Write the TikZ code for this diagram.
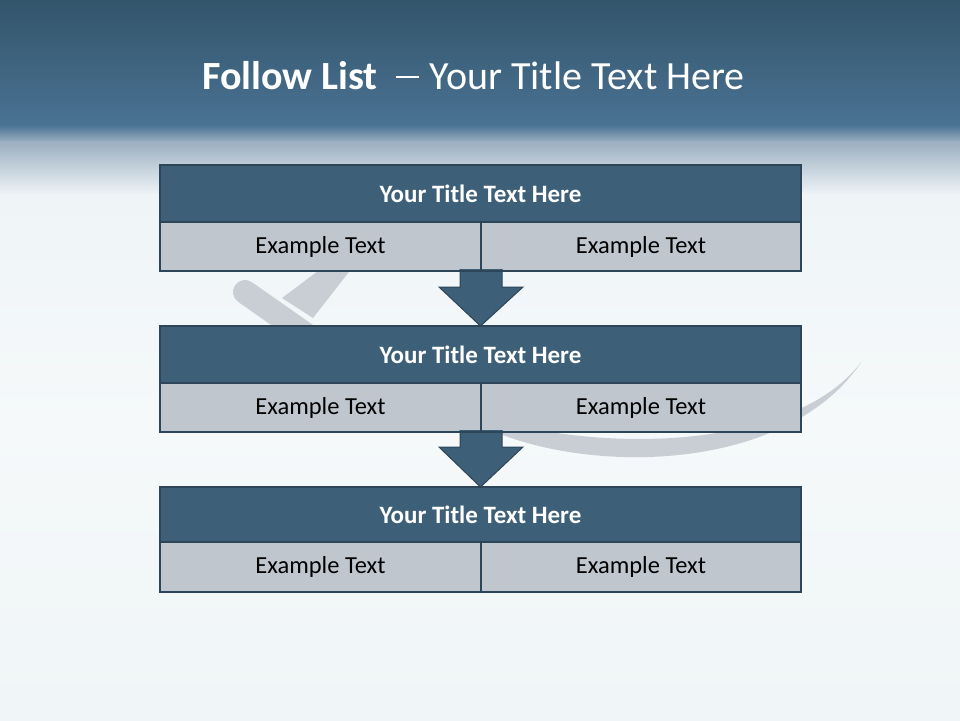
\documentclass[tikz,border=0pt]{standalone}
\usepackage{fontspec}
\setmainfont{Carlito}
\usetikzlibrary{calc}
\definecolor{bgtop}{HTML}{33556B}
\definecolor{bgmid}{HTML}{4A7293}
\definecolor{bgfade}{HTML}{9AAFC0}
\definecolor{bglight}{HTML}{EFF4F7}
\definecolor{bgbody}{HTML}{F5F9FA}
\definecolor{bgbottom}{HTML}{F0F5F7}
\definecolor{titlefill}{HTML}{3D5F78}
\definecolor{edgecol}{HTML}{2C4558}
\definecolor{cellfill}{HTML}{C0C6CE}
\definecolor{swooshcol}{HTML}{C8CED4}
\tikzset{
  titlebox/.style={draw=edgecol, fill=titlefill, line width=2.4pt, inner sep=0pt, outer sep=0pt,
    minimum width=641pt, text=white, font=\fontsize{25}{30}\selectfont\bfseries},
  cellbox/.style={draw=edgecol, fill=cellfill, line width=2.4pt, inner sep=0pt, outer sep=0pt,
    text=black, font=\fontsize{24.5}{29}\selectfont},
  flowarrow/.style={draw=edgecol, fill=titlefill, line width=1pt, line join=miter},
  swoosh/.style={fill=swooshcol, draw=none},
  boxedge/.style={draw=edgecol, line width=2.4pt},
}
\begin{document}
\begin{tikzpicture}[x=1pt,y=-1pt]
\useasboundingbox (0,0) rectangle (960,720);
% background
\shade[top color=bgtop, bottom color=bgmid] (0,0) rectangle (960,126);
\shade[top color=bgmid, bottom color=bgfade] (0,125) rectangle (960,142);
\shade[top color=bgfade, bottom color=bglight] (0,141) rectangle (960,195);
\shade[top color=bglight, bottom color=bgbody] (0,194) rectangle (960,420);
\shade[top color=bgbody, bottom color=bgbottom] (0,419) rectangle (960,720);
% swoosh check mark
\draw[swooshcol, line width=24pt, line cap=round] (245,292) -- (345,362);
\fill[swoosh] (282,298) -- (313,318) -- (352,268) -- (322,268) -- cycle;
\fill[swoosh] (495,432) .. controls (600,475) and (790,470) .. (862,361)
  .. controls (800,445) and (620,455) .. (495,420) -- cycle;
% title
\node[text=white, font=\fontsize{40}{48}\selectfont, anchor=base west, inner sep=0pt] (maintitle) at (202,89)
  {\textbf{Follow List}\hspace{18pt}\rule[10.8pt]{23pt}{2.5pt}\hspace{11pt}Your Title Text Here};
% boxes
\node[titlebox, minimum height=57pt] (t1) at (480.5,193.5) {Your Title Text Here};
\node[cellbox, minimum width=321pt, minimum height=49pt] (a1) at (320.5,246.5) {Example Text};
\node[cellbox, minimum width=320pt, minimum height=49pt] (b1) at (641,246.5) {Example Text};
\node[titlebox, minimum height=57pt] (t2) at (480.5,354.5) {Your Title Text Here};
\node[cellbox, minimum width=321pt, minimum height=49pt] (a2) at (320.5,407.5) {Example Text};
\node[cellbox, minimum width=320pt, minimum height=49pt] (b2) at (641,407.5) {Example Text};
\node[titlebox, minimum height=55pt] (t3) at (480.5,514.5) {Your Title Text Here};
\node[cellbox, minimum width=321pt, minimum height=50pt] (a3) at (320.5,567) {Example Text};
\node[cellbox, minimum width=320pt, minimum height=50pt] (b3) at (641,567) {Example Text};
% arrows
\draw[flowarrow] ($(a1.south east)+(-21,-2)$) -- ($(a1.south east)+(-21,16)$) -- ($(a1.south east)+(-42,16)$)
  -- (t2.north) -- ($(a1.south east)+(42,16)$) -- ($(a1.south east)+(21,16)$) -- ($(a1.south east)+(21,-2)$);
\draw[flowarrow] ($(a2.south east)+(-21,-2)$) -- ($(a2.south east)+(-21,15)$) -- ($(a2.south east)+(-42,15)$)
  -- (t3.north) -- ($(a2.south east)+(42,15)$) -- ($(a2.south east)+(21,15)$) -- ($(a2.south east)+(21,-2)$);
% redraw box borders over arrow ends
\draw[boxedge] (a1.south west) -- (b1.south east);
\draw[boxedge] (a2.south west) -- (b2.south east);
\draw[boxedge] (a1.north east) -- (a1.south east);
\draw[boxedge] (a2.north east) -- (a2.south east);
\draw[boxedge] (t2.north west) -- (t2.north east);
\draw[boxedge] (t3.north west) -- (t3.north east);
\end{tikzpicture}
\end{document}
